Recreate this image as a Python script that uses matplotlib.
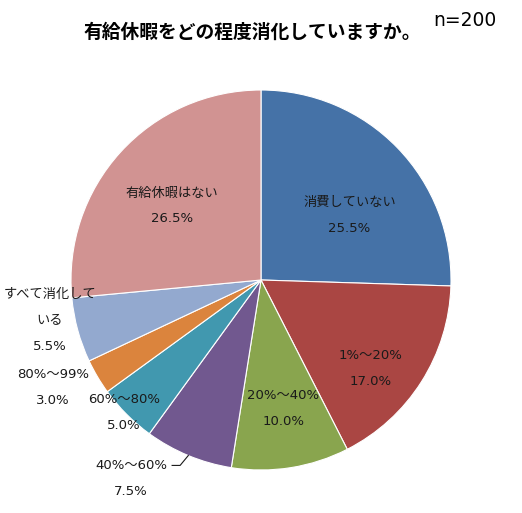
import numpy as np
import matplotlib.pyplot as plt

plt.rcParams['font.family'] = ['DejaVu Sans', 'Noto Sans CJK JP']

# data
labels = ['消費していない', '1%～20%', '20%～40%', '40%～60%',
          '60%～80%', '80%～99%', 'すべて消化して\nいる', '有給休暇はない']
values = [25.5, 17.0, 10.0, 7.5, 5.0, 3.0, 5.5, 26.5]
colors = ['#4572A7', '#AA4643', '#89A54E', '#71588F',
          '#4198AF', '#DB843D', '#93A9CF', '#D19392']
title = '有給休暇をどの程度消化していますか。'
note = 'n=200'

# label placement: radius fraction along mid angle + pixel nudge
lab_frac = [0.575, 0.737, 0.684, 1.25, 1.0, 1.23, 1.13, 0.61]
lab_nudge = [(10, -12), (-9, -13), (2, 0), (-39, 21), (-3, 2), (-7, 11), (-4, 16), (-3, -4)]

W, H = 522, 513
fig = plt.figure(figsize=(W / 100, H / 100), dpi=100)
ax = fig.add_axes([0, 0, 1, 1])

cx, cy, R = 261, H - 280, 190
wedges, _ = ax.pie(values, colors=colors, startangle=90, counterclock=False,
                   center=(cx, cy), radius=R, frame=True,
                   wedgeprops=dict(edgecolor='white', linewidth=0.8))
ax.set_xlim(0, W)
ax.set_ylim(0, H)
ax.set_aspect('equal')
ax.axis('off')

for i, w in enumerate(wedges):
    th = np.deg2rad((w.theta1 + w.theta2) / 2)
    x = cx + R * lab_frac[i] * np.cos(th) + lab_nudge[i][0]
    y = cy + R * lab_frac[i] * np.sin(th) + lab_nudge[i][1]
    ax.text(x, y, f'{labels[i]}\n{values[i]:.1f}%', ha='center', va='center',
            fontsize=9.5, color='#1a1a1a', linespacing=2.3)
    if i == 3:
        # leader line for the outside label
        ex, ey = cx + R * np.cos(th), cy + R * np.sin(th)
        ax.plot([x + 41, x + 49, ex], [y + 13, y + 13, ey], color='#1a1a1a', lw=0.8)

fig.text(252 / W, 1 - 32 / H, title, ha='center', va='center',
         fontsize=13.5, fontweight='bold')
fig.text(465 / W, 1 - 20 / H, note, ha='center', va='center', fontsize=13.5)

fig.savefig('out.png', dpi=100)
